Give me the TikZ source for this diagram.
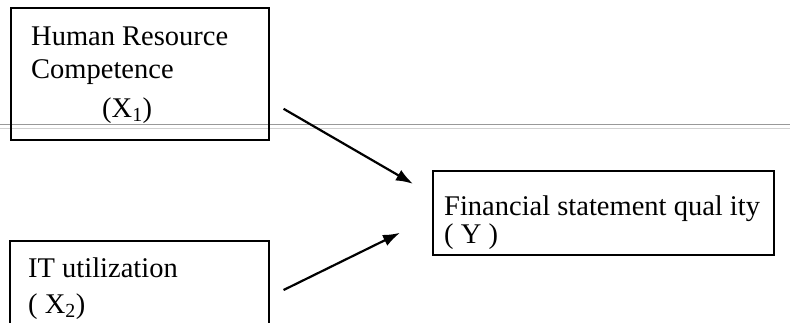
\documentclass[tikz,border=0pt]{standalone}
\usepackage{fontspec}
\setmainfont{Liberation Serif}
\usetikzlibrary{arrows.meta}
\begin{document}
\begin{tikzpicture}[x=1pt,y=-1pt,
  box/.style={draw=black, line width=1.6pt, anchor=north west, inner sep=0pt},
  txt/.style={anchor=base west, inner sep=0pt, font=\fontsize{28.5}{33}\selectfont},
  link/.style={line width=2.2pt, -{Latex[length=17pt,width=12pt]}},
  rule/.style={draw=black!40, line width=0.9pt}]
\useasboundingbox (0,0) rectangle (790,322);
\fill[white] (0,0) rectangle (790,322);

% faint double rule running across the page
\draw[rule] (0,124) -- (790,124);
\draw[rule, black!18] (0,128) -- (790,128);

% boxes
\node[box, minimum width=258pt, minimum height=132pt] (hr) at (10,7) {};
\node[box, minimum width=259pt, minimum height=100pt] (it) at (9,240) {};
\node[box, minimum width=341pt, minimum height=84pt] (fsq) at (432,170) {};

% box labels
\node[txt] (hr1) at (31,45) {Human Resource};
\node[txt] (hr2) at (31,78) {Competence};
\node[txt] (hr3) at (102,117) {(X\textsubscript{1})};
\node[txt] (it1) at (28,277) {IT utilization};
\node[txt] (it2) at (28,313) {( X\textsubscript{2})};
\node[txt] (fq1) at (444,215) {Financial statement qual ity};
\node[txt] (fq2) at (444,243) {( Y )};

% connector end points
\coordinate (a1) at ([shift={(14,35)}]hr.east);
\coordinate (b1) at ([shift={(-19,-29)}]fsq.west);
\coordinate (a2) at ([shift={(14,50)}]it.north east);
\coordinate (b2) at ([shift={(-32,20)}]fsq.west);

\draw[link] (a1) -- (b1);
\draw[link] (a2) -- (b2);
\end{tikzpicture}
\end{document}
